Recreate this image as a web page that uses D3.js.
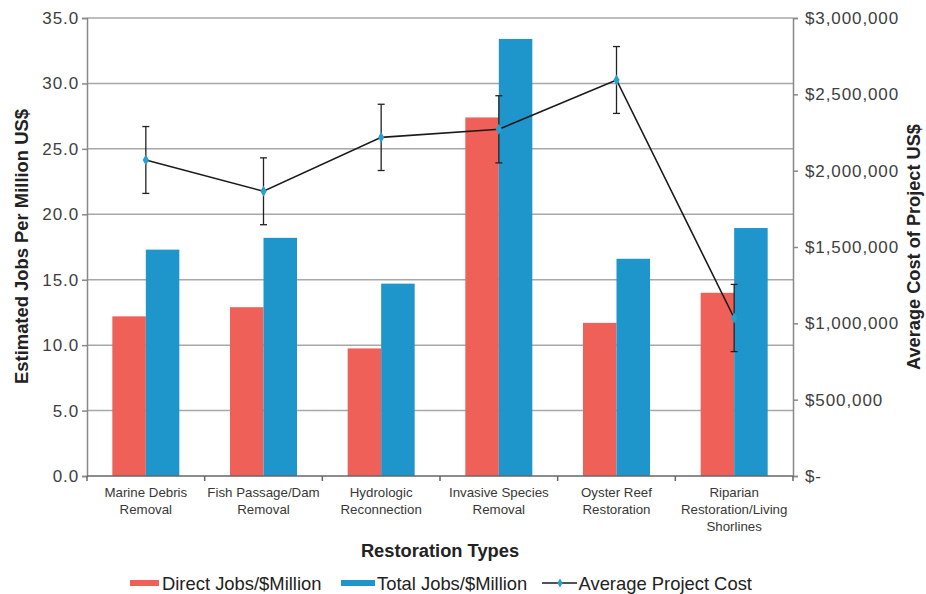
<!DOCTYPE html>
<html><head><meta charset="utf-8">
<script src="https://cdn.jsdelivr.net/npm/d3@7/dist/d3.min.js"></script>
<style>body{margin:0;background:#fff;} svg{display:block;font-family:"Liberation Sans",Arial,sans-serif;}</style>
</head><body><svg id="c" width="926" height="594"></svg>
<script>
const categories = [["Marine Debris","Removal"],["Fish Passage/Dam","Removal"],["Hydrologic","Reconnection"],["Invasive Species","Removal"],["Oyster Reef","Restoration"],["Riparian","Restoration/Living","Shorlines"]];
const directJobs = [12.2, 12.9, 9.75, 27.4, 11.7, 14.0];
const totalJobs = [17.3, 18.2, 14.7, 33.4, 16.6, 18.95];
const avgCost = [2070000, 1865000, 2218000, 2271000, 2594000, 1035000];
const costErr = [219000, 219000, 217000, 220000, 219000, 220000];
const leftTicks = [0,5,10,15,20,25,30,35];
const rightTicks = [0,500000,1000000,1500000,2000000,2500000,3000000];
const seriesNames = ["Direct Jobs/$Million","Total Jobs/$Million","Average Project Cost"];

const svg = d3.select("#c");
const L=87, R=793, T=18, B=476;
const red="#EF6058", blue="#1E96CB", grid="#A8A8A8", axisC="#888", txt="#404040";
const idx = d3.range(categories.length);
const x = d3.scaleBand().domain(idx).range([L,R]);
const xs = d3.scaleBand().domain([0,1]).range([0,67]);
const yL = d3.scaleLinear().domain([0,35]).range([B,T]);
const yR = d3.scaleLinear().domain([0,3000000]).range([B,T]);

// gridlines
svg.append("g").selectAll("line").data(leftTicks.filter(d=>d>0)).join("line")
  .attr("x1",L).attr("x2",R).attr("y1",d=>yL(d)).attr("y2",d=>yL(d))
  .attr("stroke",grid).attr("stroke-width",1.5);

// bars
const off = (x.bandwidth()-67)/2;
const g = svg.append("g");
g.selectAll("rect.d").data(directJobs).join("rect").attr("class","d")
  .attr("x",(d,i)=>x(i)+off+xs(0)).attr("width",xs.bandwidth())
  .attr("y",d=>yL(d)).attr("height",d=>B-yL(d)).attr("fill",red);
g.selectAll("rect.t").data(totalJobs).join("rect").attr("class","t")
  .attr("x",(d,i)=>x(i)+off+xs(1)).attr("width",xs.bandwidth())
  .attr("y",d=>yL(d)).attr("height",d=>B-yL(d)).attr("fill",blue);

// left axis
const la = svg.append("g").attr("transform",`translate(${L},0)`)
  .call(d3.axisLeft(yL).tickValues(leftTicks).tickFormat(d3.format(".1f")).tickSizeOuter(0).tickSize(5).tickPadding(3));
la.select(".domain").attr("stroke",axisC).attr("stroke-width",1.5);
la.selectAll(".tick line").attr("stroke",axisC).attr("stroke-width",1.5);
la.selectAll("text").attr("font-size",17).attr("letter-spacing","0.9px").attr("fill",txt);

// right axis
const ra = svg.append("g").attr("transform",`translate(${R},0)`)
  .call(d3.axisRight(yR).tickValues(rightTicks).tickFormat(d=>d===0?"$-":d3.format("$,")(d)).tickSizeOuter(0).tickSize(5).tickPadding(7));
ra.select(".domain").attr("stroke",axisC).attr("stroke-width",1.5);
ra.selectAll(".tick line").attr("stroke",axisC).attr("stroke-width",1.5);
ra.selectAll("text").attr("font-size",17).attr("letter-spacing","0.9px").attr("fill",txt);

// x axis
svg.append("line").attr("x1",L).attr("x2",R).attr("y1",B).attr("y2",B).attr("stroke","#666").attr("stroke-width",1.5);
svg.append("g").selectAll("line").data(d3.range(categories.length+1)).join("line")
  .attr("x1",i=>L+i*x.step()).attr("x2",i=>L+i*x.step()).attr("y1",B).attr("y2",B+5)
  .attr("stroke","#666").attr("stroke-width",1.5);
const cl = svg.append("g").selectAll("text").data(categories).join("text")
  .attr("x",(d,i)=>x(i)+x.bandwidth()/2).attr("y",497).attr("text-anchor","middle")
  .attr("font-size",13.3).attr("fill","#383838");
cl.selectAll("tspan").data(d=>d).join("tspan").attr("x",function(){return this.parentNode.getAttribute("x");})
  .attr("dy",(d,i)=>i===0?0:16.8).text(d=>d);

// line with error bars
const cx = i=>x(i)+x.bandwidth()/2;
const eb = svg.append("g").attr("stroke","#222").attr("stroke-width",1.3);
avgCost.forEach((c,i)=>{
  const y1=yR(c+costErr[i]), y2=yR(c-costErr[i]);
  eb.append("line").attr("x1",cx(i)).attr("x2",cx(i)).attr("y1",y1).attr("y2",y2);
  eb.append("line").attr("x1",cx(i)-3.5).attr("x2",cx(i)+3.5).attr("y1",y1).attr("y2",y1);
  eb.append("line").attr("x1",cx(i)-3.5).attr("x2",cx(i)+3.5).attr("y1",y2).attr("y2",y2);
});
svg.append("path").datum(avgCost).attr("fill","none").attr("stroke","#1a1a1a").attr("stroke-width",1.6)
  .attr("d",d3.line().x((d,i)=>cx(i)).y(d=>yR(d)));
svg.append("g").selectAll("path").data(avgCost).join("path")
  .attr("d",d3.symbol(d3.symbolDiamond,34)).attr("transform",(d,i)=>`translate(${cx(i)},${yR(d)})`)
  .attr("fill","#2A9FD0");

// axis titles
svg.append("text").attr("transform","translate(28,246.5) rotate(-90)").attr("text-anchor","middle")
  .attr("font-size",18.4).attr("font-weight","bold").attr("fill","#222").text("Estimated Jobs Per Million US$");
svg.append("text").attr("transform","translate(919.5,247) rotate(-90)").attr("text-anchor","middle")
  .attr("font-size",18.2).attr("font-weight","bold").attr("fill","#222").text("Average Cost of Project US$");
svg.append("text").attr("x",440).attr("y",557).attr("text-anchor","middle")
  .attr("font-size",18.3).attr("font-weight","bold").attr("fill","#222").text("Restoration Types");

// legend
const lg = svg.append("g").attr("font-size",18.4).attr("fill","#222");
lg.append("rect").attr("x",130).attr("y",580).attr("width",29).attr("height",6).attr("fill",red);
lg.append("text").attr("x",162).attr("y",589.5).text(seriesNames[0]);
lg.append("rect").attr("x",341).attr("y",580).attr("width",34).attr("height",6).attr("fill",blue);
lg.append("text").attr("x",377).attr("y",589.5).text(seriesNames[1]);
lg.append("line").attr("x1",542).attr("x2",577).attr("y1",583).attr("y2",583).attr("stroke","#1a1a1a").attr("stroke-width",1.6);
lg.append("path").attr("d",d3.symbol(d3.symbolDiamond,24)).attr("transform","translate(560,583)").attr("fill","#2A9FD0");
lg.append("text").attr("x",578.5).attr("y",589.5).text(seriesNames[2]);
</script></body></html>
